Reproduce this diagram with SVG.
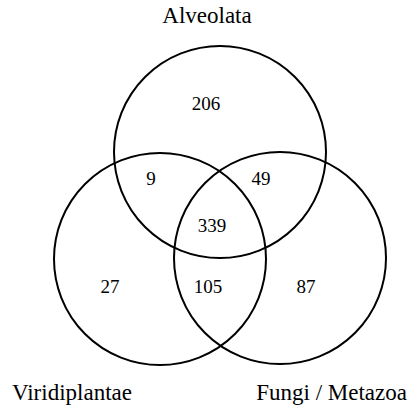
<svg xmlns="http://www.w3.org/2000/svg" width="411" height="411" viewBox="0 0 411 411">
<style>
.c{fill:none;stroke:#000;stroke-width:2}
.lbl{font-family:"Liberation Serif","Times New Roman",serif;font-size:23px;fill:#000}
.n{font-family:"Liberation Serif","Times New Roman",serif;font-size:19px;fill:#000;text-anchor:middle}
</style>
<rect width="411" height="411" fill="#fff"/>
<g id="alveolata"><circle class="c" cx="220" cy="152" r="106"/><text class="lbl" x="207" y="23" text-anchor="middle">Alveolata</text></g>
<g id="viridiplantae"><circle class="c" cx="160" cy="259" r="106"/><text class="lbl" x="12" y="400">Viridiplantae</text></g>
<g id="fungi-metazoa"><circle class="c" cx="280" cy="258" r="106"/><text class="lbl" x="407" y="400" text-anchor="end">Fungi / Metazoa</text></g>
<g id="counts">
<text class="n" x="206" y="110">206</text>
<text class="n" x="151" y="185">9</text>
<text class="n" x="261" y="185">49</text>
<text class="n" x="212" y="232">339</text>
<text class="n" x="110" y="293">27</text>
<text class="n" x="208" y="293">105</text>
<text class="n" x="306" y="293">87</text>
</g>
</svg>
